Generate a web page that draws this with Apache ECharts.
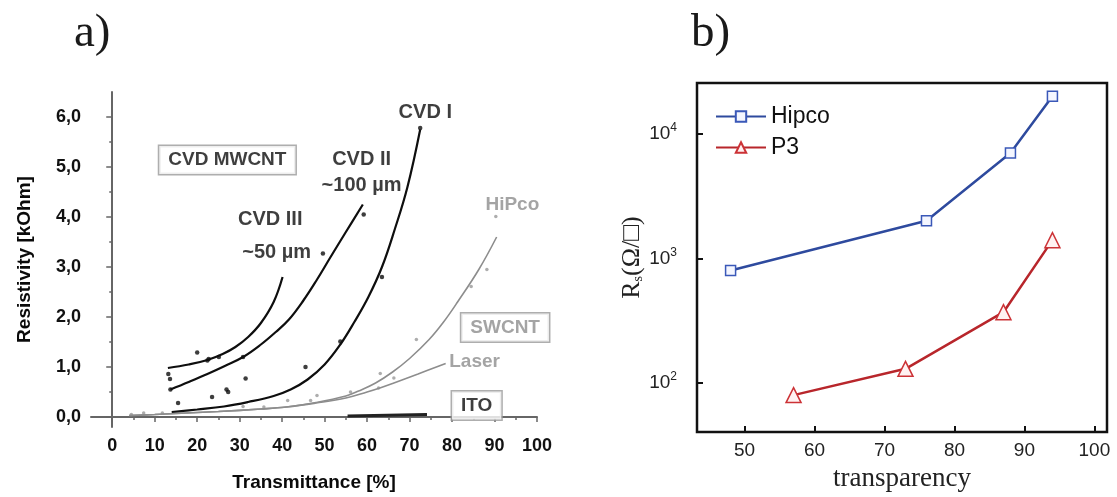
<!DOCTYPE html>
<html>
<head>
<meta charset="utf-8">
<script src="https://cdn.jsdelivr.net/npm/echarts@6/dist/echarts.min.js"></script>
<style>
  html, body { margin: 0; padding: 0; background: #fff; }
  #chart { width: 1117px; height: 497px; }
</style>
</head>
<body>
<div id="chart"></div>
<script>
// ---- panel a: resistivity vs transmittance ----
const xTicksA = [0, 10, 20, 30, 40, 50, 60, 70, 80, 90, 100];
const xMinorA = [5, 15, 25, 35, 45, 55, 65, 75, 85, 95];
const yTicksA = [0, 1, 2, 3, 4, 5, 6];
const yMinorA = [0.5, 1.5, 2.5, 3.5, 4.5, 5.5];

// fitted curves
const cvd1X = [14, 20, 26.3, 32, 38, 42, 46, 50, 53.7, 57, 60.3, 63.5, 66.5, 69.5, 72.5];
const cvd1Y = [0.1, 0.15, 0.21, 0.3, 0.42, 0.55, 0.75, 1.05, 1.45, 1.9, 2.4, 3.0, 3.75, 4.6, 5.75];
const cvd2X = [13.7, 18, 22.4, 26.5, 30.8, 35, 38.5, 41.6, 45, 48, 51.4, 55, 59];
const cvd2Y = [0.55, 0.7, 0.86, 1.02, 1.2, 1.45, 1.7, 1.95, 2.33, 2.72, 3.2, 3.7, 4.25];
const cvd3X = [13.1, 18, 22.4, 26, 29, 32, 35, 38, 40.1];
const cvd3Y = [0.98, 1.05, 1.14, 1.26, 1.4, 1.6, 1.88, 2.3, 2.8];
const hipcoFitX = [4, 10, 15, 25, 35, 41, 48, 55, 58, 62, 66, 70, 74.6, 78, 81.3, 86.3, 90.5];
const hipcoFitY = [0.03, 0.05, 0.07, 0.11, 0.16, 0.2, 0.29, 0.42, 0.52, 0.68, 0.9, 1.17, 1.55, 1.9, 2.3, 2.95, 3.6];
const laserFitX = [4, 10, 15, 25, 35, 41, 48, 55, 60, 63, 66, 72, 78.5];
const laserFitY = [0.03, 0.05, 0.07, 0.11, 0.16, 0.2, 0.28, 0.38, 0.5, 0.58, 0.67, 0.86, 1.07];
const itoX = [55.4, 74.1];
const itoY = [0.02, 0.05];

// measured points
const mwDotsX = [13.2, 13.6, 13.7, 15.5, 20, 22.4, 22.7, 25.1, 23.5, 26.9, 27.3, 30.8, 31.4, 45.5, 49.6, 53.7, 59.2, 63.5, 72.5];
const mwDotsY = [0.86, 0.76, 0.55, 0.28, 1.29, 1.13, 1.16, 1.2, 0.4, 0.55, 0.5, 1.2, 0.77, 1.0, 3.27, 1.51, 4.05, 2.8, 5.78];
const swDotsX = [4.5, 7.4, 11.8, 30.8, 35.7, 41.3, 46.7, 48.2, 56.1, 62.7, 63.1, 66.3, 71.6, 84.5, 88.2, 90.3];
const swDotsY = [0.05, 0.08, 0.08, 0.21, 0.2, 0.33, 0.33, 0.43, 0.5, 0.58, 0.87, 0.78, 1.55, 2.61, 2.95, 4.01];

// annotations (data coordinates)
const noteText = ['CVD I', 'CVD II', '~100 \u00b5m', 'CVD III', '~50 \u00b5m'];
const noteX = [73.7, 58.7, 58.7, 37.2, 38.7];
const noteY = [6.09, 5.15, 4.63, 3.95, 3.29];
const grayNoteText = ['HiPco', 'Laser'];
const grayNoteX = [94.2, 85.3];
const grayNoteY = [4.25, 1.11];
const boxNoteText = ['CVD MWCNT', 'SWCNT', 'ITO'];
const boxNoteX = [27.1, 92.5, 85.8];
const boxNoteY = [5.14, 1.79, 0.23];

// ---- panel b: sheet resistance vs transparency ----
const xTicksB = [50, 60, 70, 80, 90, 100];
const hipcoX = [48, 76, 88, 94];
const hipcoR = [800, 2000, 7000, 20000];
const p3X = [57, 73, 87, 94];
const p3R = [80, 130, 370, 1400];

const zip = (xs, ys) => xs.map((x, i) => [x, ys[i]]);

const SANS = '"Liberation Sans", Arial, sans-serif';
const SERIF = '"Liberation Serif", "DejaVu Serif", serif';
const black = '#0e0e0e';
const gray = '#8d8d8d';
const axisGray = '#666';

const chart = echarts.init(document.getElementById('chart'));

function curve(xs, ys, color, width) {
  return {
    type: 'line', xAxisIndex: 0, yAxisIndex: 0, data: zip(xs, ys),
    smooth: 0.4, symbol: 'none', silent: true,
    lineStyle: { color: color, width: width }
  };
}

function notes(texts, xs, ys, style) {
  return {
    type: 'scatter', xAxisIndex: 0, yAxisIndex: 0, silent: true,
    symbolSize: 1, itemStyle: { color: 'rgba(0,0,0,0)' },
    data: texts.map((t, i) => ({ name: t, value: [xs[i], ys[i]] })),
    label: Object.assign({
      show: true, position: 'inside', formatter: '{b}',
      fontFamily: SANS, fontWeight: 'bold', fontSize: 20, color: black
    }, style)
  };
}

chart.setOption({
  animation: false,
  graphic: [
    { type: 'text', left: 74, top: 10, style: { text: 'a)', font: '47px ' + SERIF, fill: '#1a1a1a' } },
    { type: 'text', left: 691, top: 10, style: { text: 'b)', font: '47px ' + SERIF, fill: '#1a1a1a' } }
  ],
  grid: [
    { left: 91, top: 92, width: 446, height: 335 },
    { left: 697, top: 83, width: 410, height: 350, show: true, borderColor: '#111', borderWidth: 2.5 }
  ],
  legend: {
    data: ['Hipco', 'P3'],
    orient: 'vertical', left: 710, top: 100,
    itemWidth: 50, itemHeight: 13, itemGap: 8,
    textStyle: { fontFamily: SANS, fontSize: 23, color: '#111' }
  },
  xAxis: [
    {
      gridIndex: 0, type: 'value', min: -5, max: 100,
      axisLine: { show: true, lineStyle: { color: axisGray, width: 2 } },
      axisTick: { show: true, customValues: xTicksA, length: 5, lineStyle: { color: axisGray, width: 1.5 } },
      axisLabel: { customValues: xTicksA, fontFamily: SANS, fontWeight: 'bold', fontSize: 18, color: '#111', margin: 10 },
      splitLine: { show: false },
      name: 'Transmittance [%]', nameLocation: 'middle', nameGap: 46,
      nameTextStyle: { fontFamily: SANS, fontWeight: 'bold', fontSize: 19, color: '#0a0a0a' }
    },
    {
      gridIndex: 0, type: 'value', min: -5, max: 100, position: 'bottom',
      axisLine: { show: false },
      axisTick: { show: true, customValues: xMinorA, length: 3, lineStyle: { color: axisGray, width: 1.5 } },
      axisLabel: { show: false }, splitLine: { show: false }
    },
    {
      gridIndex: 1, type: 'value', min: 43.2, max: 101.8,
      axisLine: { show: false },
      axisTick: { show: true, inside: true, customValues: xTicksB, length: 6, lineStyle: { color: '#111', width: 2 } },
      axisLabel: { customValues: xTicksB, fontFamily: SANS, fontSize: 19, color: '#222', margin: 9 },
      splitLine: { show: false },
      name: 'transparency', nameLocation: 'middle', nameGap: 26,
      nameTextStyle: { fontFamily: SERIF, fontSize: 27, color: '#222' }
    }
  ],
  yAxis: [
    {
      gridIndex: 0, type: 'value', min: -0.2, max: 6.5,
      axisLine: { show: true, lineStyle: { color: axisGray, width: 2 } },
      axisTick: { show: true, customValues: yTicksA, length: 6, lineStyle: { color: axisGray, width: 1.5 } },
      axisLabel: {
        customValues: yTicksA, fontFamily: SANS, fontWeight: 'bold', fontSize: 18, color: '#111', margin: 10,
        formatter: v => v.toFixed(1).replace('.', ',')
      },
      splitLine: { show: false },
      name: 'Resistivity [kOhm]', nameLocation: 'middle', nameGap: 57,
      nameTextStyle: { fontFamily: SANS, fontWeight: 'bold', fontSize: 19, color: '#0a0a0a' }
    },
    {
      gridIndex: 0, type: 'value', min: -0.2, max: 6.5, position: 'left',
      axisLine: { show: false },
      axisTick: { show: true, customValues: yMinorA, length: 3, lineStyle: { color: axisGray, width: 1.5 } },
      axisLabel: { show: false }, splitLine: { show: false }
    },
    {
      gridIndex: 1, type: 'log', logBase: 10, min: 40.4, max: 25500,
      axisLine: { show: false },
      axisTick: { show: true, inside: true, length: 6, lineStyle: { color: '#111', width: 2 } },
      axisLabel: {
        fontFamily: SANS, margin: 20, color: '#222',
        formatter: v => {
          const p = Math.log10(v), n = Math.round(p);
          if (Math.abs(p - n) > 1e-6) return '';
          return '{b|10}{s|' + n + '}';
        },
        rich: {
          b: { fontFamily: SANS, fontSize: 19, color: '#222', lineHeight: 24 },
          s: { fontFamily: SANS, fontSize: 12, color: '#222', lineHeight: 12, verticalAlign: 'top' }
        }
      },
      splitLine: { show: false }, minorTick: { show: false },
      name: 'R{sub|s}(\u03a9/\u25a1)', nameLocation: 'middle', nameGap: 50,
      nameTextStyle: {
        fontFamily: SERIF, fontSize: 26, color: '#222',
        rich: { sub: { fontFamily: SERIF, fontSize: 14, color: '#222', verticalAlign: 'bottom', lineHeight: 26 } }
      }
    }
  ],
  series: [
    curve(hipcoFitX, hipcoFitY, gray, 1.6),
    curve(laserFitX, laserFitY, gray, 1.6),
    curve(cvd1X, cvd1Y, black, 2.2),
    curve(cvd2X, cvd2Y, black, 2.2),
    curve(cvd3X, cvd3Y, black, 2.2),
    {
      type: 'line', xAxisIndex: 0, yAxisIndex: 0, data: zip(itoX, itoY),
      symbol: 'none', silent: true, lineStyle: { color: '#222', width: 3 }
    },
    {
      type: 'scatter', xAxisIndex: 0, yAxisIndex: 0, data: zip(swDotsX, swDotsY),
      symbolSize: 3.5, itemStyle: { color: '#999' }, silent: true
    },
    {
      type: 'scatter', xAxisIndex: 0, yAxisIndex: 0, data: zip(mwDotsX, mwDotsY),
      symbolSize: 4.5, itemStyle: { color: black }, silent: true
    },
    notes(noteText, noteX, noteY, {}),
    notes(grayNoteText, grayNoteX, grayNoteY, { color: gray, fontSize: 19 }),
    {
      type: 'scatter', xAxisIndex: 0, yAxisIndex: 0, silent: true,
      symbolSize: 1, itemStyle: { color: 'rgba(0,0,0,0)' },
      data: boxNoteText.map((t, i) => ({
        name: t, value: [boxNoteX[i], boxNoteY[i]],
        label: { color: t === 'SWCNT' ? gray : black }
      })),
      label: {
        show: true, position: 'inside', formatter: '{b}',
        fontFamily: SANS, fontWeight: 'bold', fontSize: 19,
        backgroundColor: '#fff', borderColor: '#9a9a9a', borderWidth: 1.5, padding: [5, 9, 4, 9]
      }
    },
    {
      name: 'Hipco', type: 'line', xAxisIndex: 2, yAxisIndex: 2, data: zip(hipcoX, hipcoR),
      symbol: 'rect', symbolSize: 10,
      lineStyle: { color: '#2e4a9e', width: 2.5 },
      itemStyle: { color: '#f4f6ff', borderColor: '#3a58b8', borderWidth: 1.5 }
    },
    {
      name: 'P3', type: 'line', xAxisIndex: 2, yAxisIndex: 2, data: zip(p3X, p3R),
      symbol: 'triangle', symbolSize: 15,
      lineStyle: { color: '#b8262b', width: 2.5 },
      itemStyle: { color: '#fff2f2', borderColor: '#cc3236', borderWidth: 1.5 }
    }
  ]
});
</script>
</body>
</html>
